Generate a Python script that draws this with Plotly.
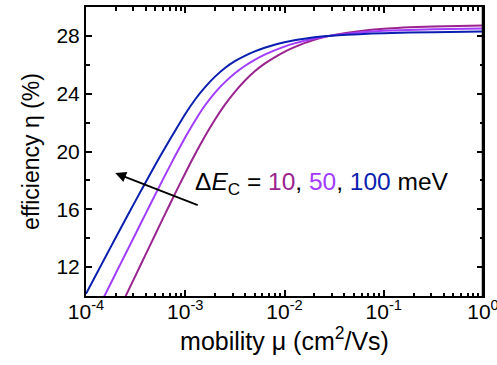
import plotly.graph_objects as go

# log10(mobility) sample positions
log_mu = [-4.0, -3.9, -3.8, -3.7, -3.6, -3.5, -3.4, -3.3, -3.2, -3.1, -3.0,
          -2.9, -2.8, -2.7, -2.6, -2.5, -2.4, -2.3, -2.2, -2.1, -2.0,
          -1.9, -1.8, -1.7, -1.6, -1.5, -1.25, -1.0, -0.5, 0.0]
mobility = [10 ** v for v in log_mu]

eff_10meV = [4.28, 5.71, 7.14, 8.57, 10.0, 11.43, 12.86, 14.29, 15.72, 17.12, 18.5,
             19.83, 21.08, 22.22, 23.24, 24.13, 24.9, 25.55, 26.08, 26.52, 26.9,
             27.22, 27.5, 27.73, 27.92, 28.07, 28.33, 28.5, 28.65, 28.72]
eff_50meV = [7.46, 8.83, 10.2, 11.57, 12.94, 14.31, 15.68, 17.05, 18.4, 19.72, 20.98,
             22.15, 23.2, 24.08, 24.8, 25.42, 25.92, 26.34, 26.7, 27.0, 27.26,
             27.48, 27.67, 27.82, 27.94, 28.04, 28.23, 28.35, 28.46, 28.52]
eff_100meV = [10.15, 11.45, 12.75, 14.05, 15.33, 16.6, 17.86, 19.1, 20.3, 21.46, 22.6,
              23.6, 24.45, 25.18, 25.78, 26.25, 26.62, 26.93, 27.18, 27.39, 27.56,
              27.7, 27.81, 27.9, 27.97, 28.02, 28.12, 28.19, 28.26, 28.3]

series_names = ["10 meV", "50 meV", "100 meV"]
series_colors = ["#9a2390", "#a23cff", "#0a1eb0"]
x_ticks = [1e-4, 1e-3, 1e-2, 1e-1, 1e0]
x_ticktext = ["10<sup>-4</sup>", "10<sup>-3</sup>", "10<sup>-2</sup>", "10<sup>-1</sup>", "10<sup>0</sup>"]
y_ticks = [12, 16, 20, 24, 28]
y_minor = [14, 18, 22, 26]

FONT = "Arial, Liberation Sans, sans-serif"

fig = go.Figure()
for name, vals, col in zip(series_names, [eff_10meV, eff_50meV, eff_100meV], series_colors):
    fig.add_trace(go.Scatter(x=mobility, y=vals, mode="lines", name=name,
                             line=dict(color=col, width=2, shape="spline", smoothing=0.5)))

fig.update_layout(
    width=497, height=365,
    margin=dict(l=86, r=14, t=7, b=69),
    paper_bgcolor="white", plot_bgcolor="white",
    showlegend=False,
    font=dict(family=FONT, color="black", size=21),
)
fig.update_xaxes(
    type="log", range=[-4, 0], tickvals=x_ticks, ticktext=x_ticktext, automargin=False,
    showgrid=False, zeroline=False, ticklabeloverflow="allow",
    showline=True, linecolor="black", linewidth=2, mirror="ticks",
    ticks="inside", ticklen=6, tickwidth=1.5, tickcolor="black",
    tickfont=dict(size=21), ticklabelstandoff=-4,
    minor=dict(ticks="inside", ticklen=3.5, tickwidth=1.5, tickcolor="black", dtick="D1", showgrid=False),
    title=dict(text="mobility μ (cm<sup>2</sup>/Vs)", font=dict(size=25), standoff=2),
)
fig.update_yaxes(
    range=[10, 30], tickvals=y_ticks, automargin=False,
    showgrid=False, zeroline=False,
    showline=True, linecolor="black", linewidth=2, mirror="ticks",
    ticks="inside", ticklen=6, tickwidth=1.5, tickcolor="black",
    tickfont=dict(size=21),
    minor=dict(ticks="inside", ticklen=3.5, tickwidth=1.5, tickcolor="black", tickvals=y_minor, showgrid=False),
    title=dict(text="efficiency η (%)", font=dict(size=23), standoff=10),
)

# right spine drawn explicitly so it stays visible
fig.add_shape(type="line", xref="paper", yref="paper", x0=1, x1=1, y0=0, y1=1,
              line=dict(color="black", width=2.5), layer="above")

# arrow
fig.add_annotation(x=-3.705, y=18.51, ax=-2.859, ay=16.25, xref="x", yref="y",
                   axref="x", ayref="y", showarrow=True, arrowhead=2, arrowsize=1.2,
                   arrowwidth=1.8, arrowcolor="black", text="")

label = ("Δ<i>E</i><sub>C</sub> = "
         f"<span style='color:{series_colors[0]}'>10</span>, "
         f"<span style='color:{series_colors[1]}'>50</span>, "
         f"<span style='color:{series_colors[2]}'>100</span> meV")
fig.add_annotation(x=-2.92, y=17.8, xref="x", yref="y", text=label, showarrow=False,
                   xanchor="left", yanchor="middle", font=dict(size=24.5, color="black"))

fig.write_html("out.html", config={"displayModeBar": False},
               post_script="document.body.style.margin='0';document.body.style.overflow='hidden';")
